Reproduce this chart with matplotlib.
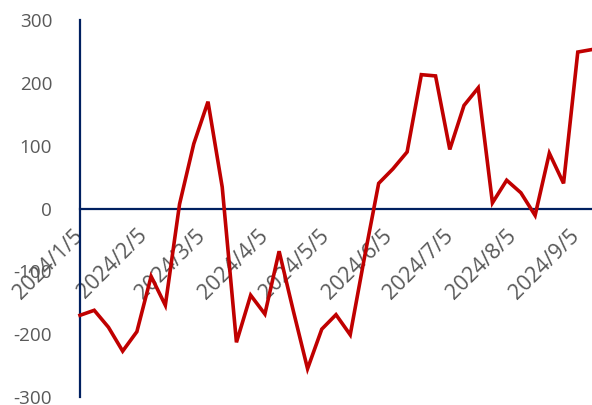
import matplotlib
matplotlib.use("Agg")
import matplotlib.pyplot as plt
import matplotlib.transforms as mtransforms
import pandas as pd

# Weekly series, starting Friday 2024-01-05
start_date = "2024-01-05"
values = [-170, -162, -189, -227, -196, -108, -154, 7, 103, 170,
          34, -213, -138, -168, -68, -163, -255, -192, -169, -201,
          -78, 40, 63, 90, 213, 211, 94, 164, 192, 9,
          45, 25, -11, 88, 40, 249, 253]
dates = pd.date_range(start_date, periods=len(values), freq="7D")

# Monthly ticks on the 5th
tick_dates = pd.date_range("2024-01-01", "2024-09-01", freq="MS") + pd.Timedelta(days=4)
tick_labels = [f"{d.year}/{d.month}/{d.day}" for d in tick_dates]
y_ticks = [-300, -200, -100, 0, 100, 200, 300]

line_color = "#C00000"
axis_color = "#002060"
text_color = "#595959"

plt.rcParams["font.family"] = ["Open Sans", "DejaVu Sans"]

fig = plt.figure(figsize=(5.92, 4.05), dpi=100)
ax = fig.add_axes([80 / 592, 8 / 405, 512 / 592, 377 / 405])

ax.plot(dates, values, color=line_color, linewidth=2.6, solid_joinstyle="miter",
        zorder=3, clip_on=False)

ax.set_xlim(dates[0], dates[-1])
ax.set_ylim(-300, 300)

for s in ("top", "right"):
    ax.spines[s].set_visible(False)
ax.spines["bottom"].set_position(("data", 0))
ax.spines["bottom"].set_color(axis_color)
ax.spines["bottom"].set_linewidth(1.6)
ax.spines["left"].set_color(axis_color)
ax.spines["left"].set_linewidth(1.6)

ax.set_yticks(y_ticks)
ax.set_yticklabels([str(v) for v in y_ticks])
ax.set_xticks(tick_dates)
ax.set_xticklabels(tick_labels)

ax.tick_params(axis="y", length=0, pad=20, labelsize=13.6, labelcolor=text_color)
ax.tick_params(axis="x", length=0, pad=12, labelsize=15.5, labelcolor=text_color)

offset = mtransforms.ScaledTranslation(8 / 100, 0, fig.dpi_scale_trans)
for lbl in ax.get_xticklabels():
    lbl.set_rotation(45)
    lbl.set_ha("right")
    lbl.set_va("top")
    lbl.set_transform(lbl.get_transform() + offset)

fig.savefig("out.png", dpi=100)
